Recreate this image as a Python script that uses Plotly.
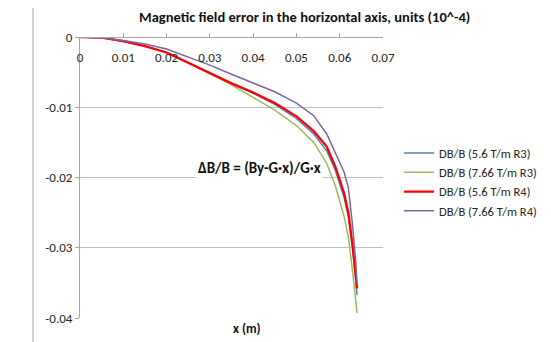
import plotly.graph_objects as go

x_vals = [0, 0.005, 0.01, 0.015, 0.02, 0.025, 0.03, 0.035, 0.04, 0.045, 0.05,
          0.054, 0.057, 0.059, 0.061, 0.062, 0.063, 0.0637, 0.064]

db_56_r3 = [0, -0.0001, -0.0006, -0.0013, -0.0022, -0.0036, -0.0051, -0.0066, -0.0080, -0.0096,
            -0.0116, -0.0138, -0.0162, -0.0190, -0.0228, -0.0256, -0.0303, -0.0345, -0.0367]
db_766_r3 = [0, -0.0001, -0.0006, -0.0013, -0.0022, -0.0036, -0.0052, -0.0068, -0.0086, -0.0104,
             -0.0126, -0.0150, -0.0180, -0.0212, -0.0255, -0.0285, -0.0335, -0.0370, -0.0393]
db_56_r4 = [0, -0.0001, -0.0006, -0.0013, -0.0022, -0.0037, -0.0052, -0.0066, -0.0079, -0.0094,
            -0.0113, -0.0134, -0.0156, -0.0185, -0.0222, -0.0250, -0.0298, -0.0340, -0.0358]
db_766_r4 = [0, -0.0001, -0.0005, -0.0010, -0.0017, -0.0028, -0.0040, -0.0053, -0.0066, -0.0078,
             -0.0094, -0.0112, -0.0138, -0.0165, -0.0192, -0.0215, -0.0270, -0.0320, -0.0350]

series_names = ["DB/B (5.6 T/m R3)", "DB/B (7.66 T/m R3)", "DB/B (5.6 T/m R4)", "DB/B (7.66 T/m R4)"]
series_values = [db_56_r3, db_766_r3, db_56_r4, db_766_r4]
colors = ["#4F81BD", "#9BBB59", "#FF0000", "#8064A2"]
widths = [1.5, 1.5, 2.3, 1.5]

x_ticks = [0, 0.01, 0.02, 0.03, 0.04, 0.05, 0.06, 0.07]
x_tick_labels = ["0", "0.01", "0.02", "0.03", "0.04", "0.05", "0.06", "0.07"]
y_ticks = [0, -0.01, -0.02, -0.03, -0.04]
y_tick_labels = ["0", "-0.01", "-0.02", "-0.03", "-0.04"]

FONT = "Carlito, Lato, 'Open Sans', sans-serif"
TXT = "#262626"

fig = go.Figure()
for name, vals, c, w in zip(series_names, series_values, colors, widths):
    fig.add_trace(go.Scatter(x=x_vals, y=vals, mode="lines", name=name,
                             line=dict(color=c, width=w)))

fig.update_layout(
    width=543, height=334,
    margin=dict(l=72, r=168, t=29, b=24, autoexpand=False),
    paper_bgcolor="white", plot_bgcolor="white",
    font=dict(family=FONT, size=13, color=TXT),
    showlegend=True,
    legend=dict(x=1.053, y=0.639, xanchor="left", yanchor="top",
                font=dict(size=12.5, color=TXT), bgcolor="rgba(0,0,0,0)",
                tracegroupgap=0),
    xaxis=dict(range=[0, 0.07], tickvals=x_ticks, ticktext=x_tick_labels,
               anchor="free", position=1, side="bottom",
               ticks="inside", ticklen=4, ticklabelstandoff=8,
               tickfont=dict(size=13, color=TXT),
               tickcolor="#a6a6a6", showline=True, linecolor="#a6a6a6", linewidth=1,
               showgrid=False, zeroline=False, fixedrange=True),
    yaxis=dict(range=[-0.04, 0], tickvals=y_ticks, ticktext=y_tick_labels,
               ticks="outside", ticklen=4, tickcolor="#a6a6a6",
               tickfont=dict(size=13, color=TXT),
               showline=True, linecolor="#a6a6a6", linewidth=1,
               showgrid=True, gridcolor="#bfbfbf", gridwidth=1, zeroline=False,
               fixedrange=True),
    annotations=[
        dict(text="<b>Magnetic field error in the horizontal axis, units (10^-4)</b>",
             xref="paper", yref="paper", x=0.742, y=1.071, xanchor="center", yanchor="middle",
             showarrow=False, font=dict(size=14.5, color="#111111")),
        dict(text="<b>ΔB/B = (By-G·x)/G·x</b>", xref="paper", yref="paper",
             x=0.593, y=0.535, xanchor="center", yanchor="middle", showarrow=False,
             bgcolor="white", font=dict(size=15, color="#111111")),
        dict(text="<b>x (m)</b>", xref="paper", yref="paper", x=0.55, y=-0.005,
             xanchor="center", yanchor="top", showarrow=False,
             font=dict(size=13, color="#111111")),
    ],
    shapes=[
        dict(type="line", xref="paper", yref="paper", x0=-0.155, x1=-0.155, y0=-0.2, y1=1.2,
             line=dict(color="#a6a6a6", width=1)),
    ],
)

fig.write_html("out.html")
